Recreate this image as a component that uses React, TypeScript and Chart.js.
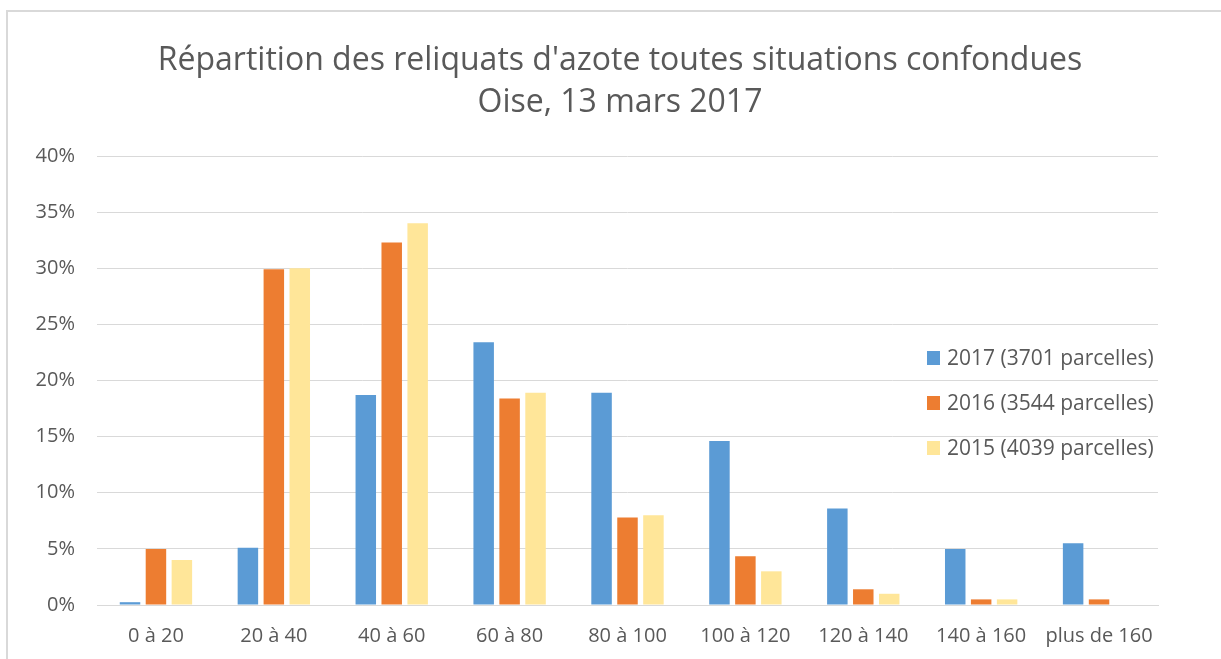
import React, { useEffect, useRef } from "react";
import { Chart, registerables } from "chart.js";

Chart.register(...registerables);

const categories = ["0 à 20", "20 à 40", "40 à 60", "60 à 80", "80 à 100", "100 à 120", "120 à 140", "140 à 160", "plus de 160"];
const series2017 = [0.25, 5.1, 18.7, 23.4, 18.9, 14.6, 8.6, 5.0, 5.5];
const series2016 = [5.0, 29.9, 32.3, 18.4, 7.8, 4.35, 1.4, 0.5, 0.5];
const series2015 = [4.0, 30.0, 34.0, 18.9, 8.0, 3.0, 1.0, 0.5, 0];
const seriesLabels = ["2017 (3701 parcelles)", "2016 (3544 parcelles)", "2015 (4039 parcelles)"];
const seriesColors = ["#5B9BD5", "#ED7D31", "#FFE699"];
const titleLines = ["Répartition des reliquats d'azote toutes situations confondues", "Oise, 13 mars 2017"];

const FONT = "'Open Sans', 'Noto Sans', sans-serif";
const TEXT = "#595959";

const overlayLegend = {
  id: "overlayLegend",
  afterDraw(chart: any) {
    const ctx = chart.ctx;
    const area = chart.chartArea;
    const x0 = area.right - 231;
    const y0 = area.top + 202;
    const step = 45;
    ctx.save();
    ctx.font = `21px ${FONT}`;
    ctx.textBaseline = "middle";
    ctx.textAlign = "left";
    chart.data.datasets.forEach((ds: any, i: number) => {
      const y = y0 + i * step;
      ctx.fillStyle = ds.backgroundColor;
      ctx.fillRect(x0, y - 7, 13, 14);
      ctx.fillStyle = TEXT;
      ctx.fillText(ds.label, x0 + 20, y + 1);
    });
    ctx.restore();
  },
};

export default function App() {
  const canvasRef = useRef<HTMLCanvasElement | null>(null);

  useEffect(() => {
    if (!canvasRef.current) return;
    const data = [series2017, series2016, series2015];
    const chart = new Chart(canvasRef.current, {
      type: "bar",
      data: {
        labels: categories,
        datasets: data.map((d, i) => ({
          label: seriesLabels[i],
          data: d,
          backgroundColor: seriesColors[i],
          categoryPercentage: 0.66,
          barPercentage: 0.79,
        })),
      },
      options: {
        animation: false,
        responsive: false,
        maintainAspectRatio: false,
        layout: { padding: { top: 40, left: 19, right: 0, bottom: 0 } },
        plugins: {
          legend: { display: false },
          tooltip: { enabled: false },
          title: {
            display: true,
            text: titleLines,
            color: TEXT,
            font: { family: FONT, size: 32, weight: "normal", lineHeight: 1.3125 },
            padding: { top: 0, bottom: 32 },
          },
        },
        scales: {
          x: {
            grid: { display: false, drawTicks: false },
            border: { display: true, color: "#d9d9d9", width: 1 },
            ticks: { color: TEXT, font: { family: FONT, size: 20 }, padding: 19, maxRotation: 0, autoSkip: false },
            afterFit(scale: any) {
              scale.height = 54;
            },
          },
          y: {
            min: 0,
            max: 40,
            grid: { color: "#d9d9d9", lineWidth: 1, drawTicks: false },
            border: { display: false },
            ticks: {
              stepSize: 5,
              color: TEXT,
              font: { family: FONT, size: 20 },
              padding: 22,
              callback: (v: any) => `${v}%`,
            },
            afterFit(scale: any) {
              scale.width = 78;
            },
          },
          spacer: {
            type: "linear",
            position: "right",
            display: true,
            grid: { display: false, drawTicks: false },
            border: { display: false },
            ticks: { display: false },
            afterFit(scale: any) {
              scale.width = 63;
            },
          },
        },
      },
      plugins: [overlayLegend],
    });
    return () => chart.destroy();
  }, []);

  return (
    <div style={{ position: "fixed", left: 0, top: 0, width: 1221, height: 659, background: "#fff", overflow: "hidden" }}>
      <div
        style={{
          position: "absolute",
          left: 6,
          top: 10,
          width: 1230,
          height: 700,
          borderLeft: "2px solid #d9d9d9",
          borderTop: "2px solid #d9d9d9",
        }}
      />
      <canvas ref={canvasRef} width={1221} height={659} style={{ position: "absolute", left: 0, top: 0, width: 1221, height: 659 }} />
    </div>
  );
}
